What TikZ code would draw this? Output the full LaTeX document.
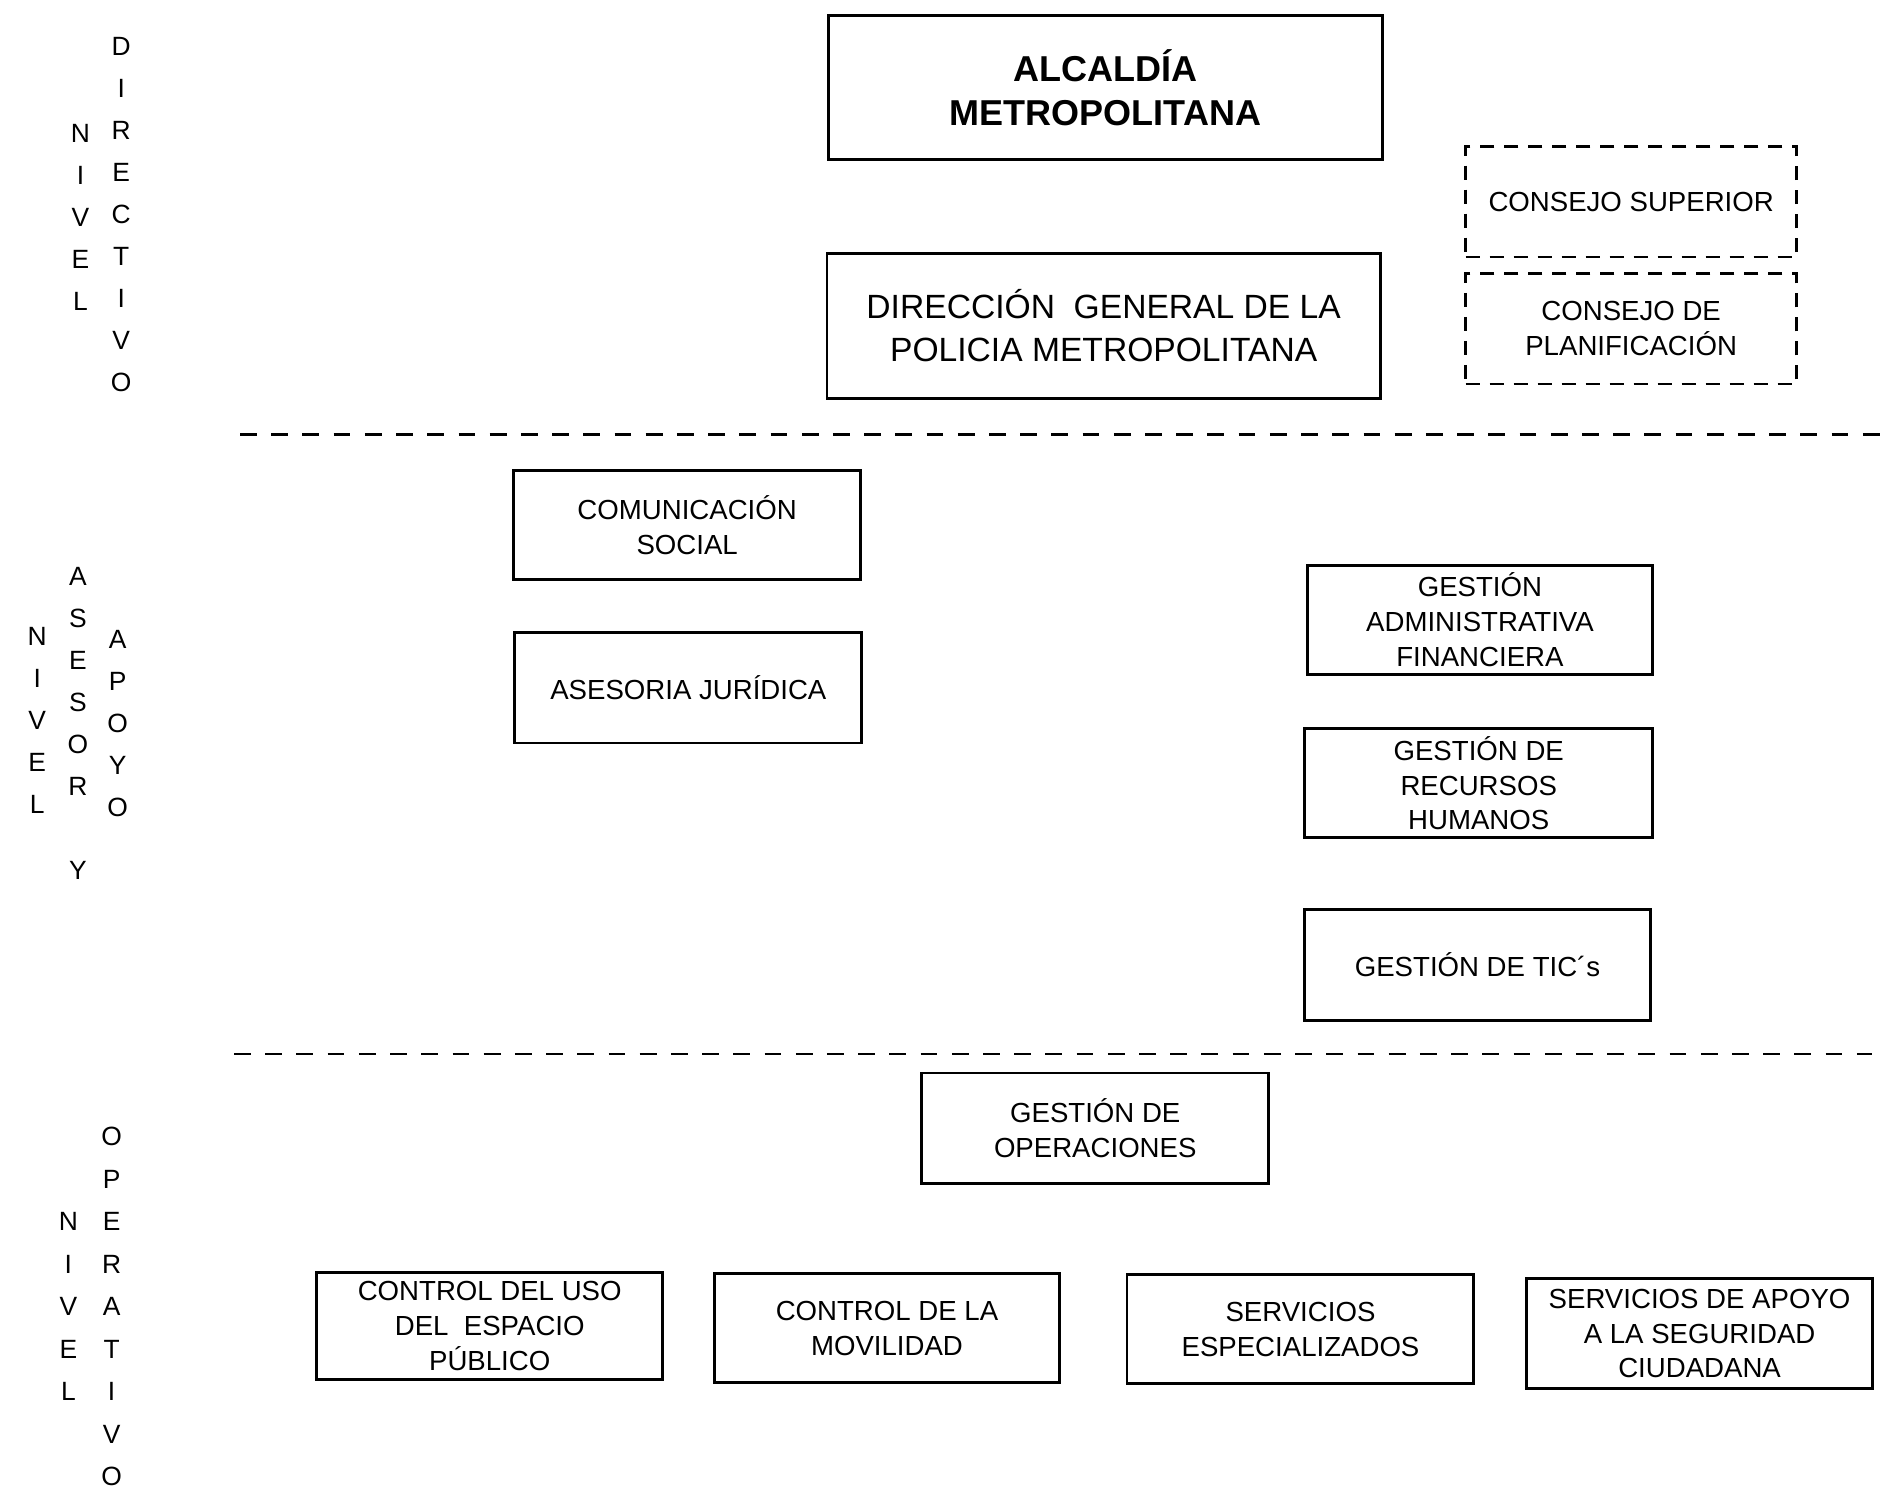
\documentclass[tikz,border=0pt]{standalone}
\usepackage{fontspec}
\setmainfont{Liberation Sans}
\usetikzlibrary{positioning}

\begin{document}
\begin{tikzpicture}[x=0.5pt, y=-0.5pt,
  unit/.style={draw, line width=1.2pt, align=center, inner sep=0pt,
    font=\fontsize{11.5}{14.5}\selectfont},
  size/.style 2 args={minimum width=#1*0.5pt, minimum height=#2*0.5pt},
  council/.style={unit, line width=1.1pt, dash pattern=on 6pt off 4pt},
  letter/.style={inner sep=0pt, font=\fontsize{11}{11}\selectfont},
  level/.style={line width=1.1pt, dash pattern=on 7pt off 6pt}]
  \useasboundingbox (0,0) rectangle (1568,1242);

  % nivel directivo
  \node[unit, size={462}{120}, font=\fontsize{15}{18.5}\selectfont\bfseries]
    (alcaldia) at (921,73) {ALCALDÍA\\METROPOLITANA};
  \node[unit, size={461}{121}, font=\fontsize{14}{18}\selectfont]
    (direccion) at (919.5,271.5) {DIRECCIÓN~ GENERAL DE LA\\POLICIA METROPOLITANA};
  \node[council, size={276}{92}] (superior) at (1359,168) {CONSEJO SUPERIOR};
  \node[council, size={276}{92}] (planif) at (1359,274) {CONSEJO DE\\PLANIFICACIÓN};

  % nivel asesor y apoyo
  \node[unit, size={289}{91}] (comunic) at (572.5,437.5) {COMUNICACIÓN\\SOCIAL};
  \node[unit, size={289}{92}] (juridica) at (573.5,573) {ASESORIA JURÍDICA};
  \node[unit, size={288}{91}] (admin) at (1233,516.5) {GESTIÓN\\ADMINISTRATIVA\\FINANCIERA};
  \node[unit, size={290}{91}] (rrhh) at (1232,652.5) {GESTIÓN DE\\RECURSOS\\HUMANOS};
  \node[unit, size={288}{92}] (tic) at (1231,804) {GESTIÓN DE TIC´s};

  % nivel operativo
  \node[unit, size={289}{92}] (operac) at (912.5,940) {GESTIÓN DE\\OPERACIONES};
  \node[unit, size={288}{89}] (espacio) at (408,1104.5) {CONTROL DEL USO\\DEL~ ESPACIO\\PÚBLICO};
  \node[unit, size={288}{91}] (movil) at (739,1106.5) {CONTROL DE LA\\MOVILIDAD};
  \node[unit, size={289}{91}] (especial) at (1083.5,1107.5) {SERVICIOS\\ESPECIALIZADOS};
  \node[unit, size={288}{92}] (ciudad) at (1416,1111) {SERVICIOS DE APOYO\\A LA SEGURIDAD\\CIUDADANA};

  % separadores
  \draw[level] (200,362) -- (1568,362);
  \draw[level] (195,878) -- (1560,878);

  % rotulos verticales
  \foreach \ch [count=\i from 0] in {N,I,V,E,L}
    \node[letter] (nd\i) at (67,111+35*\i) {\ch};
  \foreach \ch [count=\i from 0] in {D,I,R,E,C,T,I,V,O}
    \node[letter] (dir\i) at (101,39+35*\i) {\ch};

  \foreach \ch [count=\i from 0] in {N,I,V,E,L}
    \node[letter] (na\i) at (31,530+35*\i) {\ch};
  \foreach \ch [count=\i from 0] in {A,S,E,S,O,R}
    \node[letter] (ase\i) at (65,480+35*\i) {\ch};
  \node[letter] (y) at (65,725) {Y};
  \foreach \ch [count=\i from 0] in {A,P,O,Y,O}
    \node[letter] (apo\i) at (98,533+35*\i) {\ch};

  \foreach \ch [count=\i from 2] in {N,I,V,E,L}
    \node[letter] (no\i) at (57,947+35.4*\i) {\ch};
  \foreach \ch [count=\i from 0] in {O,P,E,R,A,T,I,V,O}
    \node[letter] (ope\i) at (93,947+35.4*\i) {\ch};
\end{tikzpicture}
\end{document}
